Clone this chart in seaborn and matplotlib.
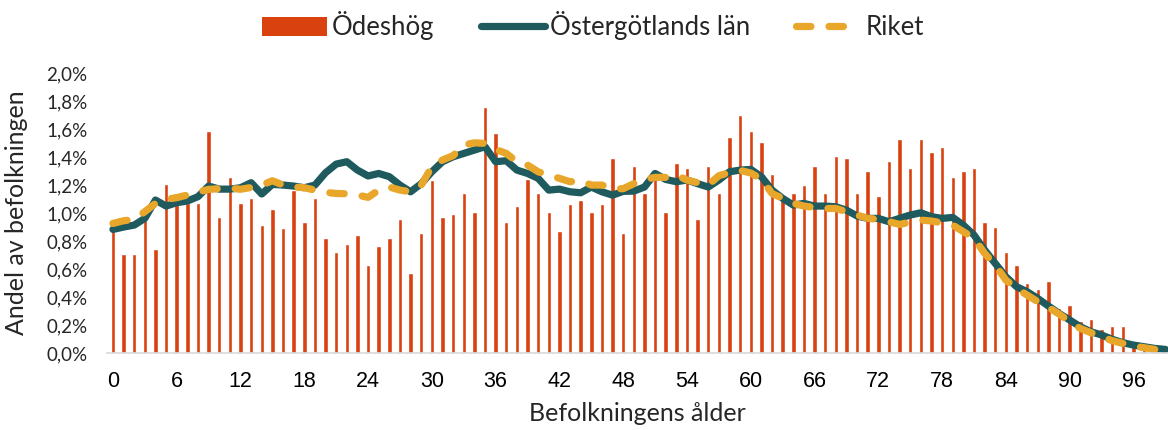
import matplotlib
matplotlib.use("Agg")
import matplotlib.pyplot as plt
import seaborn as sns
import pandas as pd
from matplotlib.patches import Patch
from matplotlib.lines import Line2D
from matplotlib.ticker import FuncFormatter

# Ålder 0-99
ages = list(range(100))

# Andel av befolkningen (%) - Ödeshög
odeshog = [
    0.87, 0.705, 0.705, 0.95, 0.745, 1.205, 1.145, 1.07, 1.07, 1.585,
    0.97, 1.26, 1.07, 1.105, 0.915, 1.03, 0.895, 1.165, 0.935, 1.105,
    0.82, 0.725, 0.78, 0.84, 0.63, 0.765, 0.82, 0.955, 0.57, 0.855,
    1.235, 0.97, 0.995, 1.145, 1.01, 1.76, 1.57, 0.935, 1.05, 1.24,
    1.145, 1.01, 0.875, 1.065, 1.09, 1.01, 1.065, 1.395, 0.855, 1.335,
    1.145, 1.24, 1.01, 1.355, 1.32, 0.955, 1.335, 1.145, 1.545, 1.70,
    1.585, 1.51, 1.28, 1.10, 1.145, 1.20, 1.335, 1.145, 1.41, 1.395,
    1.145, 1.30, 1.125, 1.375, 1.53, 1.32, 1.53, 1.435, 1.47, 1.26,
    1.30, 1.32, 0.935, 0.90, 0.725, 0.63, 0.50, 0.455, 0.515, 0.32,
    0.34, 0.23, 0.245, 0.17, 0.19, 0.19, 0.075, 0.05, 0.02, 0.01,
]

# Östergötlands län
ostergotland = [
    0.883, 0.90, 0.914, 0.962, 1.093, 1.05, 1.074, 1.086, 1.117, 1.193,
    1.171, 1.171, 1.181, 1.217, 1.136, 1.205, 1.20, 1.193, 1.181, 1.20,
    1.288, 1.35, 1.367, 1.307, 1.265, 1.283, 1.26, 1.20, 1.152, 1.21,
    1.295, 1.367, 1.402, 1.426, 1.45, 1.474, 1.367, 1.374, 1.307, 1.283,
    1.248, 1.164, 1.171, 1.152, 1.145, 1.186, 1.152, 1.128, 1.155, 1.157,
    1.186, 1.283, 1.24, 1.224, 1.236, 1.21, 1.186, 1.236, 1.295, 1.307,
    1.312, 1.26, 1.164, 1.105, 1.057, 1.069, 1.05, 1.05, 1.045, 1.021,
    0.979, 0.962, 0.962, 0.938, 0.962, 0.986, 1.002, 0.974, 0.962, 0.969,
    0.914, 0.843, 0.736, 0.64, 0.545, 0.474, 0.438, 0.39, 0.336, 0.283,
    0.236, 0.188, 0.152, 0.129, 0.098, 0.074, 0.057, 0.045, 0.033, 0.026,
]

# Riket
riket = [
    0.926, 0.945, 0.955, 1.01, 1.069, 1.098, 1.11, 1.129, 1.15, 1.169,
    1.174, 1.178, 1.17, 1.183, 1.20, 1.231, 1.20, 1.186, 1.181, 1.164,
    1.148, 1.14, 1.138, 1.129, 1.112, 1.164, 1.186, 1.164, 1.152, 1.20,
    1.331, 1.379, 1.41, 1.486, 1.502, 1.498, 1.455, 1.426, 1.367, 1.343,
    1.295, 1.271, 1.248, 1.224, 1.231, 1.20, 1.20, 1.174, 1.174, 1.21,
    1.24, 1.255, 1.255, 1.271, 1.236, 1.217, 1.20, 1.267, 1.29, 1.305,
    1.286, 1.243, 1.14, 1.105, 1.069, 1.05, 1.04, 1.033, 1.033, 1.01,
    0.986, 0.962, 0.955, 0.938, 0.919, 0.935, 0.95, 0.943, 0.93, 0.914,
    0.867, 0.819, 0.712, 0.629, 0.521, 0.462, 0.414, 0.367, 0.326, 0.279,
    0.224, 0.176, 0.145, 0.117, 0.088, 0.069, 0.05, 0.038, 0.026, 0.014,
]

xticks = list(range(0, 97, 6))
yticks = [0.0, 0.2, 0.4, 0.6, 0.8, 1.0, 1.2, 1.4, 1.6, 1.8, 2.0]

c_bar = "#D9410F"
c_lan = "#1E5A5E"
c_rik = "#E8A72A"
c_txt = "#262626"

sns.set_style("white")
plt.rcParams["font.family"] = ["Lato", "DejaVu Sans"]

df = pd.DataFrame({"age": ages, "Ödeshög": odeshog,
                   "Östergötlands län": ostergotland, "Riket": riket})

fig = plt.figure(figsize=(11.68, 4.30), dpi=100)
ax = fig.add_axes([0.0916, 0.179, 0.9084, 0.651])

# staplar för kommunen, linjer för län och riket
sns.barplot(data=df, x="age", y="Ödeshög", native_scale=True, width=0.42,
            color=c_bar, saturation=1, ax=ax)
sns.lineplot(data=df, x="age", y="Östergötlands län", color=c_lan,
             linewidth=5.2, ax=ax, solid_capstyle="round")
sns.lineplot(data=df, x="age", y="Riket", color=c_rik, linewidth=5.2, ax=ax)
ax.lines[-1].set_dashes((2, 2.5))
ax.lines[-1].set_dash_capstyle("round")

ax.set_xlim(-0.56, 99.25)
ax.set_ylim(0, 2.0)
ax.set_xticks(xticks)
ax.set_xticklabels([str(t) for t in xticks], fontsize=15.5,
                   family="Liberation Sans", color="black")
ax.set_yticks(yticks)
ax.yaxis.set_major_formatter(FuncFormatter(lambda v, p: f"{v:.1f}%".replace(".", ",")))
ax.tick_params(axis="y", labelsize=13.5, colors=c_txt, length=0, pad=14)
ax.tick_params(axis="x", length=0, pad=13)

for s in ["top", "right", "left"]:
    ax.spines[s].set_visible(False)
ax.spines["bottom"].set_color("#D9D9D9")
ax.spines["bottom"].set_linewidth(1.2)

ax.set_xlabel("Befolkningens ålder", fontsize=18, color=c_txt, labelpad=7)
ax.set_ylabel("Andel av befolkningen", fontsize=18, color=c_txt)
ax.yaxis.set_label_coords(-0.074, 0.5)

handles = [
    Patch(facecolor=c_bar, edgecolor="none"),
    Line2D([0], [0], color=c_lan, linewidth=5.2, solid_capstyle="round"),
    Line2D([0], [0], color=c_rik, linewidth=5.2, dashes=(2, 2.5),
           dash_capstyle="round"),
]
fig.legend(handles, ["Ödeshög", "Östergötlands län", "Riket"],
           loc="center", bbox_to_anchor=(0.508, 0.94), ncol=3, frameon=False,
           prop={"size": 18.5}, handlelength=2.5, handleheight=0.8,
           handletextpad=0.2, columnspacing=1.8, labelcolor=c_txt)

fig.savefig("out.png", dpi=100)
